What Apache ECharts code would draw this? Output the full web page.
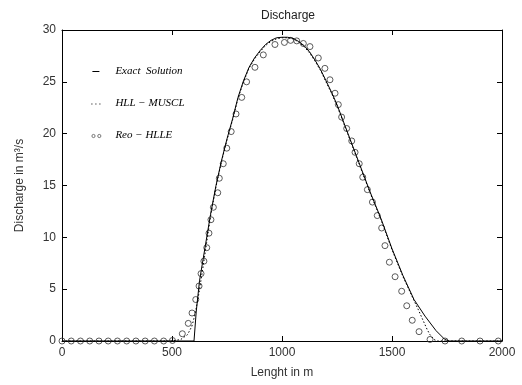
<!DOCTYPE html>
<html>
<head>
<meta charset="utf-8">
<script src="https://cdn.jsdelivr.net/npm/echarts@6/dist/echarts.min.js"></script>
<style>html,body{margin:0;padding:0;background:#fff}#c{width:522px;height:385px}</style>
</head>
<body>
<div id="c"></div>
<script>
// Exact solution
var exactX = [0, 600, 610, 625, 650, 675, 700, 725, 750, 775, 800, 825, 850, 875, 900, 925, 950, 975, 1000, 1025, 1050, 1075, 1100, 1125, 1150, 1175, 1200, 1225, 1250, 1275, 1300, 1350, 1400, 1450, 1500, 1550, 1600, 1650, 1700, 1740, 1760, 2000];
var exactY = [0, 0, 2.8, 5.8, 9.0, 12.2, 15.0, 17.4, 19.5, 21.4, 23.5, 25.1, 26.4, 27.3, 28.0, 28.6, 29.0, 29.25, 29.3, 29.3, 29.2, 28.9, 28.5, 27.9, 27.1, 26.2, 25.1, 24.0, 22.8, 21.4, 20.0, 17.2, 14.4, 11.8, 8.9, 6.3, 4.0, 2.4, 1.0, 0.15, 0, 0];
// HLL - MUSCL
var musclX = [0, 500, 540, 570, 590, 605, 620, 640, 675, 700, 725, 750, 775, 800, 825, 850, 875, 900, 925, 950, 975, 1000, 1025, 1050, 1075, 1100, 1125, 1150, 1175, 1200, 1225, 1250, 1275, 1300, 1350, 1400, 1450, 1500, 1550, 1600, 1620, 1641, 1660, 1673, 1690, 1705, 2000];
var musclY = [0, 0, 0.15, 0.6, 1.4, 2.6, 4.3, 7.0, 12.0, 14.9, 17.3, 19.4, 21.3, 23.4, 25.0, 26.3, 27.2, 27.9, 28.5, 28.9, 29.15, 29.25, 29.25, 29.15, 28.85, 28.4, 27.8, 27.0, 26.1, 25.0, 23.9, 22.7, 21.3, 19.9, 17.1, 14.3, 11.7, 8.8, 6.2, 3.9, 3.0, 2.0, 1.1, 0.6, 0.15, 0, 0];
// Reo - HLLE
var roeX = [0, 42, 84, 126, 168, 210, 252, 294, 336, 378, 420, 462, 502, 547, 574, 591, 608, 623, 632, 645, 658, 668, 677, 688, 708, 715, 733, 749, 769, 791, 817, 839, 877, 915, 968, 1011, 1039, 1067, 1097, 1127, 1165, 1195, 1218, 1241, 1256, 1271, 1294, 1317, 1332, 1351, 1367, 1388, 1411, 1433, 1453, 1468, 1488, 1514, 1544, 1567, 1592, 1623, 1673, 1741, 1817, 1900, 1983];
var roeY = [0, 0, 0, 0, 0, 0, 0, 0, 0, 0, 0, 0, 0.05, 0.7, 1.7, 2.7, 4.0, 5.3, 6.5, 7.7, 9.0, 10.4, 11.7, 12.9, 14.3, 15.7, 17.1, 18.6, 20.2, 21.9, 23.5, 25.0, 26.4, 27.6, 28.6, 28.8, 29.0, 28.95, 28.7, 28.4, 27.3, 26.3, 25.2, 23.9, 22.8, 21.6, 20.5, 19.3, 18.2, 17.1, 15.8, 14.6, 13.4, 12.1, 10.9, 9.2, 7.6, 6.2, 4.8, 3.4, 2.0, 0.9, 0.15, 0, 0, 0, 0];
var xTicks = [0, 500, 1000, 1500, 2000];
var yTicks = [0, 5, 10, 15, 20, 25, 30];

function pairs(xs, ys) { return xs.map(function (x, i) { return [x, ys[i]]; }); }

var chart = echarts.init(document.getElementById('c'), null, {renderer: 'canvas'});
var axisFont = {fontFamily: 'Liberation Sans, Arial, sans-serif', fontSize: 12, color: '#333'};
var lineCol = '#000';
var names = ['Exact  Solution', 'HLL \u2212 MUSCL', 'Reo \u2212 HLLE'];

chart.setOption({
  animation: false,
  backgroundColor: '#fff',
  title: {
    text: 'Discharge', left: 283, top: 5, textAlign: 'center',
    textStyle: {fontFamily: 'Liberation Sans, Arial, sans-serif', fontSize: 12, fontWeight: 'normal', color: '#222'}
  },
  grid: {left: 62, right: 20, top: 30, bottom: 44, containLabel: false},
  legend: {
    left: 85, top: 61, orient: 'vertical', itemGap: 21, itemWidth: 12, itemHeight: 10,
    selectedMode: false,
    textStyle: {fontFamily: 'Liberation Serif, Times New Roman, serif', fontStyle: 'italic', fontSize: 11, color: '#000', padding: [0, 0, 0, 8]},
    data: [
      {name: names[0], icon: 'path://M0,0 M12,10 M2,4.5 L9,4.5 L9,5.5 L2,5.5 Z', itemStyle: {color: '#000', borderWidth: 0}},
      {name: names[1], icon: 'path://M0,0 M12,10 M1,5 L2,5 L2,6 L1,6 Z M5,5 L6,5 L6,6 L5,6 Z M9,5 L10,5 L10,6 L9,6 Z', itemStyle: {color: '#000', borderWidth: 0}},
      {name: names[2], icon: 'path://M0,0 M12,10 M1.5,5.5 A1.6,1.6 0 1,0 4.7,5.5 A1.6,1.6 0 1,0 1.5,5.5 Z M7.3,5.5 A1.6,1.6 0 1,0 10.5,5.5 A1.6,1.6 0 1,0 7.3,5.5 Z', itemStyle: {color: 'rgba(0,0,0,0)', borderColor: '#333', borderWidth: 0.8}}
    ]
  },
  xAxis: [{
    type: 'value', min: 0, max: 2000, interval: 500, position: 'bottom',
    name: 'Lenght in m', nameLocation: 'middle', nameGap: 26,
    nameTextStyle: axisFont,
    axisLine: {show: true, onZero: false, lineStyle: {color: lineCol, width: 1}},
    axisTick: {show: true, inside: true, length: 5, lineStyle: {color: lineCol}},
    axisLabel: Object.assign({margin: 6, formatter: function (v) { return String(v); }}, axisFont),
    splitLine: {show: false}
  }, {
    type: 'value', min: 0, max: 2000, interval: 500, position: 'top',
    axisLine: {show: true, onZero: false, lineStyle: {color: lineCol, width: 1}},
    axisTick: {show: true, inside: true, length: 5, lineStyle: {color: lineCol}},
    axisLabel: {show: false}, splitLine: {show: false}
  }],
  yAxis: [{
    type: 'value', min: 0, max: 30, interval: 5, position: 'left',
    name: 'Discharge in m\u00b3/s', nameLocation: 'middle', nameGap: 36,
    nameTextStyle: axisFont,
    axisLine: {show: true, onZero: false, lineStyle: {color: lineCol, width: 1}},
    axisTick: {show: true, inside: true, length: 5, lineStyle: {color: lineCol}},
    axisLabel: Object.assign({margin: 6, formatter: function (v) { return String(v); }}, axisFont),
    splitLine: {show: false}
  }, {
    type: 'value', min: 0, max: 30, interval: 5, position: 'right',
    axisLine: {show: true, onZero: false, lineStyle: {color: lineCol, width: 1}},
    axisTick: {show: true, inside: true, length: 5, lineStyle: {color: lineCol}},
    axisLabel: {show: false}, splitLine: {show: false}
  }],
  series: [{
    name: names[0], type: 'line', data: pairs(exactX, exactY), smooth: false,
    showSymbol: false, symbol: 'none', color: '#000',
    lineStyle: {color: '#000', width: 1}
  }, {
    name: names[1], type: 'line', data: pairs(musclX, musclY), smooth: false,
    showSymbol: false, symbol: 'none', color: '#000',
    lineStyle: {color: '#000', width: 1, type: [1.5, 2]}
  }, {
    name: names[2], type: 'scatter', data: pairs(roeX, roeY),
    symbol: 'circle', symbolSize: 6,
    itemStyle: {color: 'rgba(0,0,0,0)', borderColor: '#333', borderWidth: 1}
  }]
});
</script>
</body>
</html>
